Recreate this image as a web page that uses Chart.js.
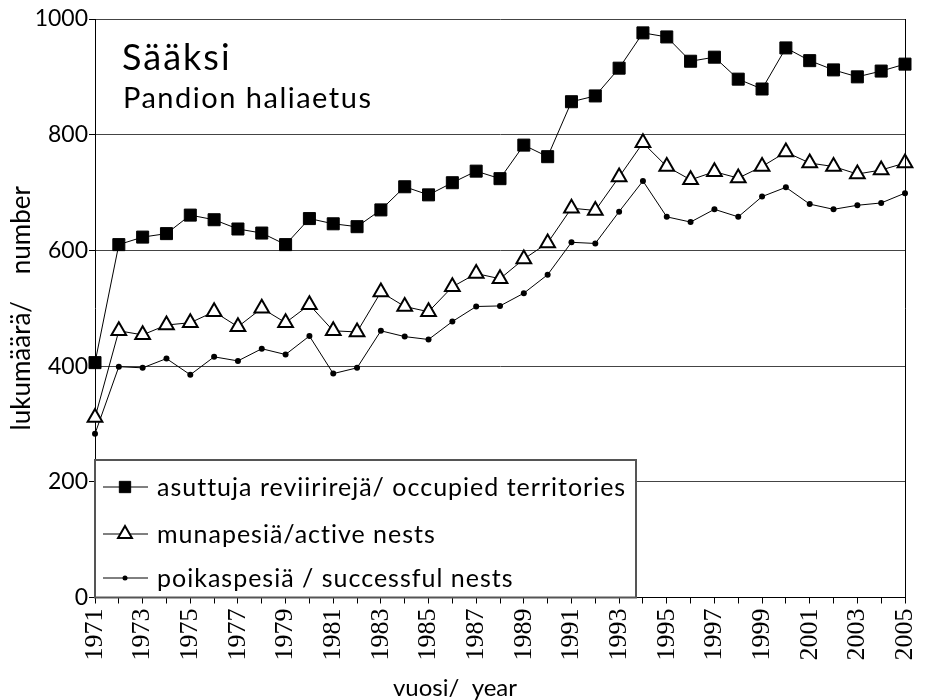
<!DOCTYPE html>
<html><head><meta charset="utf-8">
<script src="https://cdn.jsdelivr.net/npm/chart.js@4.4.1/dist/chart.umd.min.js"></script>
<style>html,body{margin:0;padding:0;background:#fff;}canvas{display:block;}</style>
</head><body>
<canvas id="c" width="933" height="700"></canvas>
<script>
const years = [1971,1972,1973,1974,1975,1976,1977,1978,1979,1980,1981,1982,1983,1984,1985,1986,1987,1988,1989,1990,1991,1992,1993,1994,1995,1996,1997,1998,1999,2000,2001,2002,2003,2004,2005];
const occupiedTerritories = [406,610,623,629,661,653,637,630,610,655,646,641,670,710,696,717,737,724,782,762,857,867,915,976,969,927,934,896,879,950,928,912,900,910,922];
const activeNests = [311,461,454,471,475,494,468,500,475,506,461,459,528,503,494,537,560,551,585,613,673,669,727,786,745,722,736,725,745,770,751,745,732,739,751];
const successfulNests = [283,399,397,413,385,416,409,430,420,452,387,397,461,451,446,477,503,504,526,558,614,612,667,720,658,649,671,658,693,709,680,671,678,682,699];
const yTickValues = [0,200,400,600,800,1000];
const seriesLabels = ['asuttuja reviirirejä/ occupied territories','munapesiä/active nests','poikaspesiä / successful nests'];
const titleLines = ['Sääksi','Pandion haliaetus'];
const yTitle = 'lukumäärä/    number';
const xTitle = 'vuosi/  year';

const SANS = 'Lato, "DejaVu Sans", sans-serif';
const SERIF = '"Liberation Serif", "DejaVu Serif", serif';

const canvas = document.getElementById('c');
const baseCtx = canvas.getContext('2d');
baseCtx.letterSpacing = '1px';

const legendPlugin = {
  id: 'boxLegend',
  afterDraw(chart) {
    const ctx = chart.ctx, a = chart.chartArea;
    ctx.save();
    ctx.strokeStyle = '#000'; ctx.lineWidth = 1;
    ctx.beginPath(); ctx.moveTo(a.right + 0.5, a.top); ctx.lineTo(a.right + 0.5, a.bottom); ctx.stroke();
    ctx.fillStyle = '#000';
    ctx.textBaseline = 'alphabetic'; ctx.textAlign = 'left';
    ctx.font = '36px ' + SANS;
    ctx.letterSpacing = '2px';
    ctx.fillText(titleLines[0], 122, 70);
    ctx.letterSpacing = '1.5px';
    ctx.font = '29px ' + SANS;
    ctx.fillText(titleLines[1], 123, 108);
    const x0 = a.left, x1 = 636, y0 = 460, y1 = a.bottom;
    ctx.fillStyle = '#fff';
    ctx.fillRect(x0, y0, x1 - x0, y1 - y0);
    ctx.strokeStyle = '#555'; ctx.lineWidth = 2;
    ctx.strokeRect(x0, y0, x1 - x0, y1 - y0);
    const rows = [487, 534, 578];
    ctx.letterSpacing = '1px';
    ctx.font = '25px ' + SANS;
    ctx.textBaseline = 'middle';
    chart.data.datasets.forEach((ds, i) => {
      const y = rows[i];
      ctx.strokeStyle = '#000'; ctx.lineWidth = 1;
      ctx.beginPath(); ctx.moveTo(103, y); ctx.lineTo(148, y); ctx.stroke();
      ctx.fillStyle = ds.pointBackgroundColor; ctx.strokeStyle = ds.pointBorderColor;
      ctx.lineWidth = ds.pointBorderWidth;
      Chart.helpers.drawPoint(ctx, {pointStyle: ds.pointStyle, radius: ds.legendRadius, rotation: 0, borderWidth: ds.pointBorderWidth}, 125, y);
      ctx.fillStyle = '#000';
      ctx.fillText(ds.label, 157, y + 1);
    });
    ctx.restore();
  }
};

new Chart(canvas, {
  type: 'line',
  data: {
    labels: years,
    datasets: [
      {label: seriesLabels[0], data: occupiedTerritories, borderColor: '#000', borderWidth: 1,
       pointStyle: 'rect', pointRadius: 8.5, legendRadius: 8, pointBackgroundColor: '#000', pointBorderColor: '#000', pointBorderWidth: 1, clip: false},
      {label: seriesLabels[1], data: activeNests, borderColor: '#000', borderWidth: 1,
       pointStyle: 'triangle', pointRadius: 8.5, legendRadius: 8, pointBackgroundColor: '#fff', pointBorderColor: '#000', pointBorderWidth: 2, clip: false},
      {label: seriesLabels[2], data: successfulNests, borderColor: '#000', borderWidth: 1,
       pointStyle: 'circle', pointRadius: 3, legendRadius: 2.5, pointBackgroundColor: '#000', pointBorderColor: '#000', pointBorderWidth: 0, clip: false}
    ]
  },
  options: {
    responsive: false, animation: false, devicePixelRatio: 1,
    layout: {padding: {left: 0, top: 19, right: 28, bottom: 0}},
    plugins: {legend: {display: false}, tooltip: {enabled: false}},
    elements: {line: {tension: 0}},
    scales: {
      x: {
        type: 'category',
        grid: {display: true, drawOnChartArea: false, drawTicks: true, tickLength: 6, tickColor: '#000'},
        border: {display: true, color: '#000', width: 1},
        ticks: {autoSkip: false, minRotation: 90, maxRotation: 90, padding: 5, color: '#000',
          font: {family: SERIF, size: 26, lineHeight: 0.8},
          callback: function(v, i) { return i % 2 === 0 ? String(this.getLabelForValue(v)) : ''; }},
        title: {display: true, text: xTitle + '\u2003\u2003\u2003\u2003\u2003', color: '#000', font: {family: SANS, size: 24, lineHeight: 1}, padding: {top: 0, bottom: 0}},
        afterFit(s) { s.height = 102.5; }
      },
      y: {
        min: 0, max: 1000,
        afterBuildTicks(s) { s.ticks = yTickValues.map(v => ({value: v})); },
        grid: {color: '#444', lineWidth: 1, drawTicks: true, tickLength: 6, tickColor: '#000'},
        border: {display: true, color: '#000', width: 1},
        ticks: {padding: 1, color: '#000', font: {family: SANS, size: 23}, callback: v => String(v)},
        title: {display: true, text: yTitle, color: '#000', font: {family: SANS, size: 26, lineHeight: 1.2}, padding: {top: 6, bottom: 0}},
        afterFit(s) { s.width = 95; }
      }
    }
  },
  plugins: [legendPlugin]
});
</script>
</body></html>
